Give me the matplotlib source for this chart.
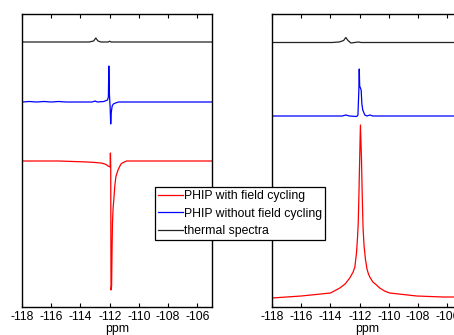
import matplotlib
matplotlib.use("Agg")
import matplotlib.pyplot as plt
from matplotlib.lines import Line2D

plt.rcParams['font.family'] = ['Liberation Sans', 'DejaVu Sans']

# ---- data (ppm, intensity relative to each trace baseline)
# left panel
left_thermal_ppm = [-118, -113.4, -113.1, -112.95, -112.8, -112.6, -112.1, -112.0, -111.9, -105]
left_thermal_int = [0, 0, 1, 4, 1, 0, 0, 0.8, 0, 0]

left_nofc_ppm = [-118, -117.5, -117, -116.5, -116, -115.5, -115, -114, -113.2, -113.0,
                 -112.85, -112.4, -112.15, -112.09, -112.06, -112.02, -111.97, -111.93,
                 -111.89, -111.83, -111.75, -111.6, -111.4, -105]
left_nofc_int = [0, 0.5, 0, 0.5, 0, 0.5, 0, 0, 0, 1,
                 0, 0.5, 2, 5, 36, 8, -5, -22,
                 -10, -4, -2, -1, 0, 0]

left_fc_ppm = [-118, -115.5, -114.5, -113.5, -113, -112.6, -112.45, -112.25, -112.11,
               -111.97, -111.95, -111.93, -111.91, -111.87, -111.84, -111.81, -111.77,
               -111.72, -111.65, -111.58, -111.5, -111.43, -111.3, -111.2, -111.0,
               -110.85, -105]
left_fc_int = [0, 0, -0.5, -1, -1.5, -2, -2.5, -3.5, -5,
               -6, 8, -5, -129, -125, -90, -62, -48,
               -39, -25, -16, -12, -9, -5, -2.5, -1,
               0, 0]

# right panel
right_thermal_ppm = [-118, -113.9, -113.4, -113.1, -112.95, -112.8, -112.6, -112.35,
                     -112.1, -111.9, -111.7, -105]
right_thermal_int = [0, 0, 0.5, 2, 5, 2, -0.5, 0, 0.5, 0, 0, 0]

right_nofc_ppm = [-118, -113.2, -112.95, -112.7, -112.2, -112.12, -112.06, -112.03,
                  -112.0, -111.95, -111.9, -111.85, -111.79, -111.65, -111.5, -111.3,
                  -111.1, -105]
right_nofc_int = [0, 0, 1, 0, -0.5, 1, 25, 47,
                  30, 28, 26, 12, 6, 1, 0, 1,
                  0, 0]

right_fc_ppm = [-118, -116.0, -114.0, -113.36, -113.0, -112.68, -112.45, -112.33,
                -112.22, -112.15, -112.1, -112.05, -112.0, -111.95, -111.88, -111.83,
                -111.77, -111.7, -111.6, -111.5, -111.4, -111.31, -111.1, -110.85,
                -110.63, -110.3, -109.95, -108.1, -106.3, -105]
right_fc_int = [0, 2, 5, 10, 14, 20, 26, 31,
                45, 60, 75, 105, 140, 173, 140, 105,
                70, 52, 38, 29, 24, 21, 16, 13,
                10, 7, 5, 2, 1, 1]

# vertical stacking offsets (same units as intensity)
left_offsets = {"fc": 146, "nofc": 205, "thermal": 265}
right_offsets = {"fc": 9, "nofc": 191, "thermal": 264.5}

labels = ["PHIP with field cycling", "PHIP without field cycling", "thermal spectra"]
colors = ["#ff0000", "#0000ff", "#222222"]
xticks = [-118, -116, -114, -112, -110, -108, -106]

fig = plt.figure(figsize=(4.54, 3.35), dpi=100)
ax1 = fig.add_axes([22 / 454, 1 - 307 / 335, 190 / 454, 293 / 335])
ax2 = fig.add_axes([272 / 454, 1 - 307 / 335, 190 / 454, 293 / 335])


def draw(ax, series, offsets):
    for (ppm, inten, key), c in zip(series, colors):
        ax.plot(ppm, [v + offsets[key] for v in inten], color=c, lw=0.9)
    ax.set_xlim(-118, -105)
    ax.set_ylim(0, 293)
    ax.set_xticks(xticks)
    ax.set_xticklabels([str(t) for t in xticks])
    ax.set_yticks([])
    ax.tick_params(axis='x', direction='in', top=True, length=3, width=0.8,
                   labelsize=8.8, pad=3, colors='k')
    for s in ax.spines.values():
        s.set_linewidth(1.0)
        s.set_color('k')
    ax.set_xlabel("ppm", fontsize=8.8, labelpad=0)


draw(ax1, [(left_fc_ppm, left_fc_int, "fc"),
           (left_nofc_ppm, left_nofc_int, "nofc"),
           (left_thermal_ppm, left_thermal_int, "thermal")], left_offsets)
draw(ax2, [(right_fc_ppm, right_fc_int, "fc"),
           (right_nofc_ppm, right_nofc_int, "nofc"),
           (right_thermal_ppm, right_thermal_int, "thermal")], right_offsets)

handles = [Line2D([], [], color=c, lw=0.9) for c in colors]
leg = fig.legend(handles, labels, loc='upper left',
                 bbox_to_anchor=(155 / 454, 1 - 187 / 335),
                 fontsize=8.8, frameon=True, fancybox=False, framealpha=1,
                 edgecolor='k', borderpad=0.25, borderaxespad=0,
                 handlelength=2.0, handletextpad=0.1, labelspacing=0.45)
leg.get_frame().set_linewidth(0.9)
leg.set_zorder(10)

fig.savefig("out.png", dpi=100)
